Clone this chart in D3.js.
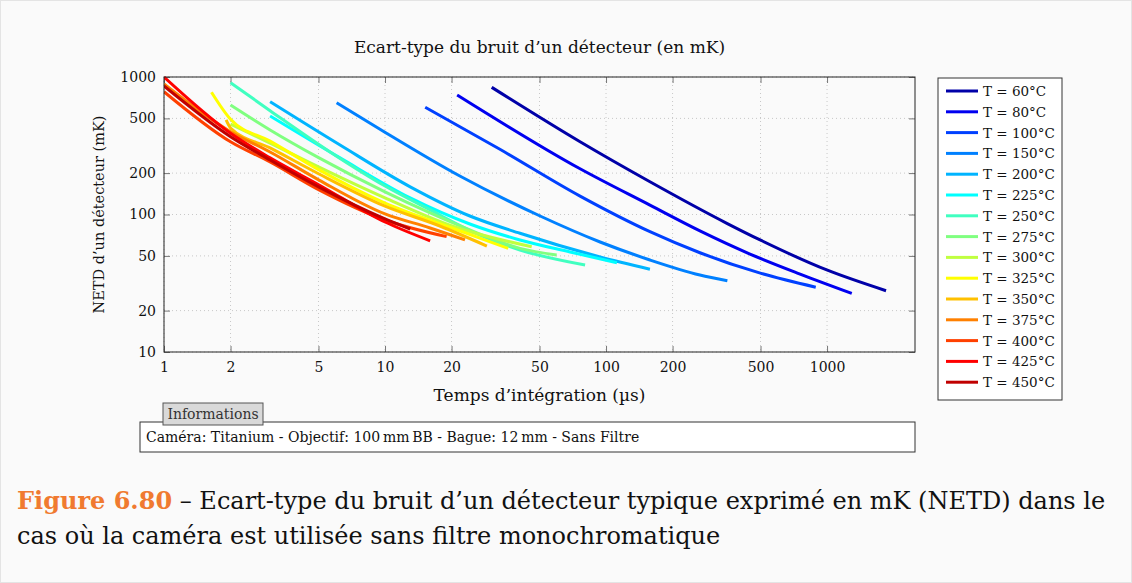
<!DOCTYPE html>
<html><head><meta charset="utf-8">
<script src="https://cdn.jsdelivr.net/npm/d3@7"></script>
<style>
body{margin:0;background:#fafafa;}
svg{display:block;}
</style></head>
<body><svg id="c" width="1132" height="583"></svg>
<script>
// ---- data ----
const temps = ["60","80","100","150","200","225","250","275","300","325","350","375","400","425","450"];
const colors = ["#0000a8","#0000f0","#0040ff","#0080ff","#00b4ff","#00ffff","#40ffc0","#80ff80","#c0ff40","#ffff00","#ffc000","#ff8000","#ff4000","#ff0000","#c00000"];
// [integration time (µs), NETD (mK)]
const s60  = [[30.4,841],[76.3,338],[158,173],[352,86.3],[498,65.3],[997,39.5],[1849,27.9]];
const s80  = [[21.2,740],[76.3,215],[158,117],[266,76],[448,51.6],[755,36.9],[1294,26.7]];
const s100 = [[15.2,602],[33.1,298],[76.3,136],[158,75],[266,52.7],[503,37.3],[889,29.6]];
const s150 = [[6.04,650],[9.49,417],[21.8,190.5],[50.3,97.5],[94,63.1],[158,46.7],[266,36.3],[354,33]];
const s200 = [[3.02,661],[6.26,320],[13,159],[24.2,97.5],[40.8,73],[94,49.1],[158,40]];
const s225 = [[3.02,520],[6.26,258],[13,132],[24.2,85.3],[40.8,65.3],[68.7,53.4],[112,44.6]];
const s250 = [[2,909],[3.02,569],[5.64,285],[10,161],[16,108],[26.9,70.9],[40.8,55.2],[80.4,42.9]];
const s275 = [[2,626],[3.02,412],[5.03,258],[10,146],[16,102.6],[26.9,72.1],[40.8,56.7],[59.8,50.8]];
const s300 = [[2,455],[3.02,331],[5.03,221],[10,132],[20.1,82.5],[46.1,58.3]];
const s325 = [[1.64,774],[2,492],[3.02,342],[5.03,211],[10,121],[20.1,79.8],[36.1,56.7]];
const s350 = [[1.91,487],[2,426],[3.02,305],[5.03,197],[10,115],[17.7,82.5],[28.9,59]];
const s375 = [[1,889],[2,400],[3.02,285],[5.03,178],[10,101],[16,79.8],[23,65.3]];
const s400 = [[1,782],[2,338],[3.02,241],[5.03,151],[10,91.2],[19,69]];
const s425 = [[1,1000],[2,390],[3.02,258],[5.03,164],[10,88.2],[16,64.4]];
const s450 = [[1,860],[2,368],[3.02,249],[5.03,158],[10,92.8],[13,78.4]];
const series = [s60,s80,s100,s150,s200,s225,s250,s275,s300,s325,s350,s375,s400,s425,s450];
const xTicks = [1,2,5,10,20,50,100,200,500,1000];
const yTicks = [10,20,50,100,200,500,1000];
const title = "Ecart-type du bruit d\u2019un détecteur (en mK)";
const xLabel = "Temps d\u2019intégration (µs)";
const yLabel = "NETD d\u2019un détecteur (mK)";
const infoTitle = "Informations";
const infoText = "Caméra: Titanium - Objectif: 100\u2009mm\u2009BB - Bague: 12\u2009mm - Sans Filtre";
const capFig = "Figure 6.80";
const capLine1 = " \u2013 Ecart-type du bruit d\u2019un détecteur typique exprimé en mK (NETD) dans le";
const capLine2 = "cas où la caméra est utilisée sans filtre monochromatique";

// ---- drawing ----
const svg = d3.select("#c");
const F = "'DejaVu Serif', serif";
const L = 164, R = 915, T = 77, B = 352;
const x = d3.scaleLog().domain([1,2500]).range([L,R]);
const y = d3.scaleLog().domain([10,1000]).range([B,T]);

svg.append("rect").attr("x",0.5).attr("y",0.5).attr("width",1131).attr("height",582)
  .attr("fill","#fafafa").attr("stroke","#e4e4e4");

// grid
const g = svg.append("g");
g.selectAll(".gx").data(xTicks).join("line")
  .attr("x1",d=>x(d)).attr("x2",d=>x(d)).attr("y1",T).attr("y2",B)
  .attr("stroke","#c8c8c8").attr("stroke-dasharray","1,3");
g.selectAll(".gy").data(yTicks).join("line")
  .attr("y1",d=>y(d)).attr("y2",d=>y(d)).attr("x1",L).attr("x2",R)
  .attr("stroke","#c8c8c8").attr("stroke-dasharray","1,3");

// axes (ticks inward, on both sides)
const fmt = d=>String(d);
svg.append("g").attr("transform",`translate(0,${B})`)
  .call(d3.axisBottom(x).tickValues(xTicks).tickFormat(fmt).tickSizeInner(-6).tickSizeOuter(0).tickPadding(10))
  .call(a=>{a.select(".domain").remove();a.selectAll("line").attr("stroke","#777");a.selectAll("text").attr("font-family",F).attr("font-size",14).attr("fill","#111");});
svg.append("g").attr("transform",`translate(0,${T})`)
  .call(d3.axisTop(x).tickValues(xTicks).tickFormat("").tickSizeInner(-6).tickSizeOuter(0))
  .call(a=>{a.select(".domain").remove();a.selectAll("line").attr("stroke","#777");});
svg.append("g").attr("transform",`translate(${L},0)`)
  .call(d3.axisLeft(y).tickValues(yTicks).tickFormat(fmt).tickSizeInner(-6).tickSizeOuter(0).tickPadding(8))
  .call(a=>{a.select(".domain").remove();a.selectAll("line").attr("stroke","#777");a.selectAll("text").attr("font-family",F).attr("font-size",14).attr("fill","#111");});
svg.append("g").attr("transform",`translate(${R},0)`)
  .call(d3.axisRight(y).tickValues(yTicks).tickFormat("").tickSizeInner(-6).tickSizeOuter(0))
  .call(a=>{a.select(".domain").remove();a.selectAll("line").attr("stroke","#777");});

// lines
const line = d3.line().x(d=>x(d[0])).y(d=>y(d[1])).curve(d3.curveMonotoneX);
svg.append("clipPath").attr("id","pc").append("rect").attr("x",L).attr("y",T-2).attr("width",R-L).attr("height",B-T+2);
svg.append("g").attr("clip-path","url(#pc)").selectAll("path").data(series).join("path")
  .attr("d",line).attr("fill","none").attr("stroke",(d,i)=>colors[i]).attr("stroke-width",3);

// frame
svg.append("rect").attr("x",L).attr("y",T).attr("width",R-L).attr("height",B-T)
  .attr("fill","none").attr("stroke","#222").attr("stroke-width",1);

// titles
svg.append("text").attr("x",(L+R)/2).attr("y",53).attr("text-anchor","middle")
  .attr("font-family",F).attr("font-size",17).attr("fill","#111").text(title);
svg.append("text").attr("x",(L+R)/2).attr("y",401).attr("text-anchor","middle")
  .attr("font-family",F).attr("font-size",17).attr("fill","#111").text(xLabel);
svg.append("text").attr("transform",`translate(104,${(T+B)/2}) rotate(-90)`).attr("text-anchor","middle")
  .attr("font-family",F).attr("font-size",14.5).attr("fill","#111").text(yLabel);

// legend
const lg = svg.append("g");
lg.append("rect").attr("x",938).attr("y",78).attr("width",124).attr("height",322)
  .attr("fill","#fff").attr("stroke","#333");
const li = lg.selectAll("g").data(temps).join("g")
  .attr("transform",(d,i)=>`translate(946,${91+i*20.8})`);
li.append("line").attr("x1",0).attr("x2",32).attr("stroke",(d,i)=>colors[i]).attr("stroke-width",3);
li.append("text").attr("x",37).attr("y",5).attr("font-family",F).attr("font-size",13.5).attr("fill","#111")
  .text(d=>`T = ${d}°C`);

// info box
svg.append("rect").attr("x",140).attr("y",422).attr("width",775).attr("height",30)
  .attr("fill","#fff").attr("stroke","#333");
svg.append("rect").attr("x",163).attr("y",403).attr("width",100).attr("height",22)
  .attr("fill","#d9d9d9").attr("stroke","#555");
svg.append("text").attr("x",213).attr("y",419).attr("text-anchor","middle")
  .attr("font-family",F).attr("font-size",14).attr("fill","#333").text(infoTitle);
svg.append("text").attr("x",146).attr("y",442)
  .attr("font-family",F).attr("font-size",14).attr("fill","#111").text(infoText);

// caption
const c1 = svg.append("text").attr("x",17).attr("y",509).attr("font-family",F).attr("font-size",24).attr("fill","#111");
c1.append("tspan").attr("fill","#f07a30").attr("font-weight","bold").text(capFig);
c1.append("tspan").text(capLine1);
svg.append("text").attr("x",17).attr("y",544).attr("font-family",F).attr("font-size",24).attr("fill","#111").text(capLine2);
</script></body></html>
